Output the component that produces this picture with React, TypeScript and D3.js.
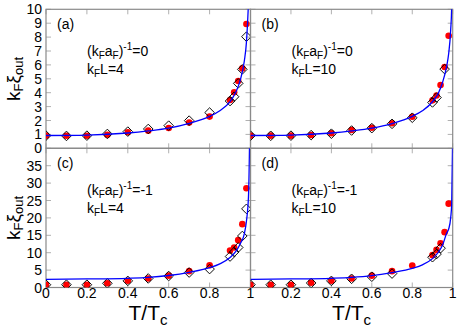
import * as React from "react";
import * as d3 from "d3";

// temperatures of the simulation points
const tPts = [0, 0.1, 0.2, 0.3, 0.4, 0.5, 0.6, 0.7, 0.8, 0.9, 0.92, 0.94, 0.96, 0.98];
const tPtsB = [0, 0.1, 0.2, 0.3, 0.4, 0.5, 0.6, 0.7, 0.8, 0.9, 0.92, 0.96];
const tPtsD = [0, 0.1, 0.2, 0.3, 0.4, 0.5, 0.6, 0.7, 0.9, 0.92, 0.94];
// theory curve sampling
const tCurve = [0, 0.2, 0.4, 0.5, 0.6, 0.7, 0.8, 0.85, 0.9, 0.93, 0.95, 0.97, 0.98, 0.99, 0.995, 0.999];

const redA = [0.91, 0.9, 0.9, 0.98, 1.15, 1.27, 1.46, 1.85, 2.28, 3.47, 4.03, 4.84, 5.75, 8.94];
const diaA = [0.91, 0.89, 0.91, 1.03, 1.2, 1.39, 1.63, 1.99, 2.57, 3.4, 3.71, 4.67, 5.68, 8.03];
const curveA = [0.92, 0.95, 1.1, 1.25, 1.45, 1.8, 2.3, 2.7, 3.35, 4.1, 4.9, 6.3, 7.6, 10.5, 13, 20];

const redB = [0.91, 0.91, 0.91, 0.96, 1.08, 1.32, 1.48, 1.8, 2.27, 3.45, 3.8, 4.55, 5.85, 8.1];
const diaB = [0.91, 0.9, 0.91, 0.95, 1.05, 1.28, 1.45, 1.76, 2.2, 3.3, 3.65, 5.7];
const curveB = [0.92, 0.95, 1.1, 1.25, 1.45, 1.78, 2.3, 2.7, 3.35, 4.0, 4.75, 5.9, 6.8, 8.5, 10.2, 14];

const redC = [0.8, 0.8, 0.8, 1.2, 1.96, 2.6, 3.4, 4.7, 6.4, 10.6, 11.5, 13.6, 18.2, 28.5];
const diaC = [0.8, 0.8, 0.8, 1.2, 1.9, 2.6, 3.3, 4.3, 5.3, 8.9, 10.2, 11.5, 14.8, 22.6];
const curveC = [2.35, 2.45, 2.65, 2.9, 3.45, 4.35, 5.7, 6.8, 8.6, 10.5, 12.6, 15.5, 19, 26, 40, 60];

const redD = [0.8, 0.8, 0.8, 1.4, 1.97, 2.6, 3.4, 4.7, 6.3, 9.3, 10.8, 12.7, 15.9, 24.1];
const diaD = [0.8, 0.8, 0.8, 1.3, 1.9, 2.5, 3.1, 4.0, 8.7, 9.6, 11.3];
const curveD = [2.35, 2.45, 2.65, 2.9, 3.4, 4.3, 5.5, 6.5, 8.3, 10.2, 12.2, 15.6, 16.8, 20, 24, 40];

const xTicks = [0, 0.2, 0.4, 0.6, 0.8, 1];
const yTicksTop = d3.range(0, 11, 1);
const yTicksBot = d3.range(0, 40, 5);

const W = 463, H = 331;
const colL = [46, 250.5];
const colR = [250.5, 452.7];
const rowT = [9.3, 148.3];
const rowB = [148.3, 287.5];
const FONT = "Liberation Sans, Arial, Helvetica, sans-serif";
const GREY = "#8a8a8a";

interface PanelProps {
  id: string;
  label: string;
  inv: string;
  L: string;
  xr: number[];
  yr: number[];
  ymax: number;
  yTicks: number[];
  redX: number[];
  red: number[];
  diaX: number[];
  dia: number[];
  curve: number[];
  leftLabels: boolean;
  bottomLabels: boolean;
  skipZero: boolean;
}

const Panel = (p: PanelProps) => {
  const x = d3.scaleLinear().domain([0, 1]).range(p.xr);
  const y = d3.scaleLinear().domain([0, p.ymax]).range([p.yr[1], p.yr[0]]);
  const line = d3.line<number>()
    .x((_, i) => x(tCurve[i]))
    .y(d => y(d))
    .curve(d3.curveMonotoneX);
  const diamond = d3.symbol(d3.symbolSquare, 46)();
  const tl = 5;
  const [x0, x1] = p.xr;
  const [y0, y1] = p.yr;
  return (
    <g>
      <defs>
        <clipPath id={`clip-${p.id}`}>
          <rect x={x0} y={y0} width={x1 - x0} height={y1 - y0} />
        </clipPath>
      </defs>
      {/* ticks */}
      {xTicks.map(t => (
        <g key={"xt" + t} stroke="#b0b0b0" strokeWidth={1}>
          <line x1={x(t)} x2={x(t)} y1={y1} y2={y1 - tl} />
          <line x1={x(t)} x2={x(t)} y1={y0} y2={y0 + tl} />
        </g>
      ))}
      {p.yTicks.map(t => (
        <g key={"yt" + t} stroke="#b0b0b0" strokeWidth={1}>
          <line x1={x0} x2={x0 + tl} y1={y(t)} y2={y(t)} />
          <line x1={x1} x2={x1 - tl} y1={y(t)} y2={y(t)} />
        </g>
      ))}
      <rect x={x0} y={y0} width={x1 - x0} height={y1 - y0} fill="none" stroke={GREY} strokeWidth={1.2} />
      {p.leftLabels && p.yTicks.map(t => (
        <text key={"yl" + t} x={x0 - 4} y={y(t)} dy="0.36em" textAnchor="end" fontSize={14} fontFamily={FONT}>{t}</text>
      ))}
      {p.bottomLabels && xTicks.filter(t => !(p.skipZero && t === 0)).map(t => (
        <text key={"xl" + t} x={x(t)} y={y1 + 10.5} textAnchor="middle" fontSize={14} fontFamily={FONT}>{t}</text>
      ))}
      <g clipPath={`url(#clip-${p.id})`}>
        {p.red.map((v, i) => (
          <circle key={"r" + i} cx={x(p.redX[i])} cy={y(v)} r={3.3} fill="#ff0000" />
        ))}
        {p.dia.map((v, i) => (
          <path key={"d" + i} d={diamond} transform={`translate(${x(p.diaX[i])},${y(v)}) rotate(45)`} fill="none" stroke="#000" strokeWidth={0.9} />
        ))}
        <path d={line(p.curve) || ""} fill="none" stroke="#0000ff" strokeWidth={1.3} />
      </g>
      <text x={x0 + 11} y={y0 + 20} fontSize={14} fontFamily={FONT}>{p.label}</text>
      <text x={x0 + 41} y={y0 + 46.5} fontSize={14} fontFamily={FONT}>
        (k<tspan fontSize={10} dy={3}>F</tspan><tspan dy={-3}>a</tspan><tspan fontSize={10} dy={3}>F</tspan><tspan dy={-3}>)</tspan><tspan fontSize={10} dy={-6}>-1</tspan><tspan dy={6}>={p.inv}</tspan>
      </text>
      <text x={x0 + 41} y={y0 + 64.5} fontSize={14} fontFamily={FONT}>
        k<tspan fontSize={10} dy={3}>F</tspan><tspan dy={-3}>L={p.L}</tspan>
      </text>
    </g>
  );
};

const YLabel = ({ cy }: { cy: number }) => (
  <text transform={`translate(20,${cy}) rotate(-90)`} textAnchor="middle" fontSize={19} fontFamily={FONT}>
    k<tspan fontSize={13} dy={3}>F</tspan><tspan dy={-3}>ξ</tspan><tspan fontSize={13} dy={3}>out</tspan>
  </text>
);

const XLabel = ({ cx }: { cx: number }) => (
  <text x={cx} y={320} textAnchor="middle" fontSize={21} fontFamily={FONT}>
    T/T<tspan fontSize={15} dy={5}>c</tspan>
  </text>
);

export default function App() {
  return (
    <div style={{ position: "absolute", left: 0, top: 0 }}>
      <svg width={W} height={H} style={{ display: "block", background: "#fff" }}>
        <Panel id="a" label="(a)" inv="0" L="4" xr={colL} yr={rowT} ymax={10} yTicks={yTicksTop}
          redX={tPts} red={redA} diaX={tPts} dia={diaA} curve={curveA}
          leftLabels={true} bottomLabels={false} skipZero={false} />
        <Panel id="b" label="(b)" inv="0" L="10" xr={colR} yr={rowT} ymax={10} yTicks={yTicksTop}
          redX={tPts} red={redB} diaX={tPtsB} dia={diaB} curve={curveB}
          leftLabels={false} bottomLabels={false} skipZero={true} />
        <Panel id="c" label="(c)" inv="-1" L="4" xr={colL} yr={rowB} ymax={40} yTicks={yTicksBot}
          redX={tPts} red={redC} diaX={tPts} dia={diaC} curve={curveC}
          leftLabels={true} bottomLabels={true} skipZero={false} />
        <Panel id="d" label="(d)" inv="-1" L="10" xr={colR} yr={rowB} ymax={40} yTicks={yTicksBot}
          redX={tPts} red={redD} diaX={tPtsD} dia={diaD} curve={curveD}
          leftLabels={false} bottomLabels={true} skipZero={true} />
        <YLabel cy={79} />
        <YLabel cy={218} />
        <XLabel cx={148} />
        <XLabel cx={351.6} />
      </svg>
    </div>
  );
}
